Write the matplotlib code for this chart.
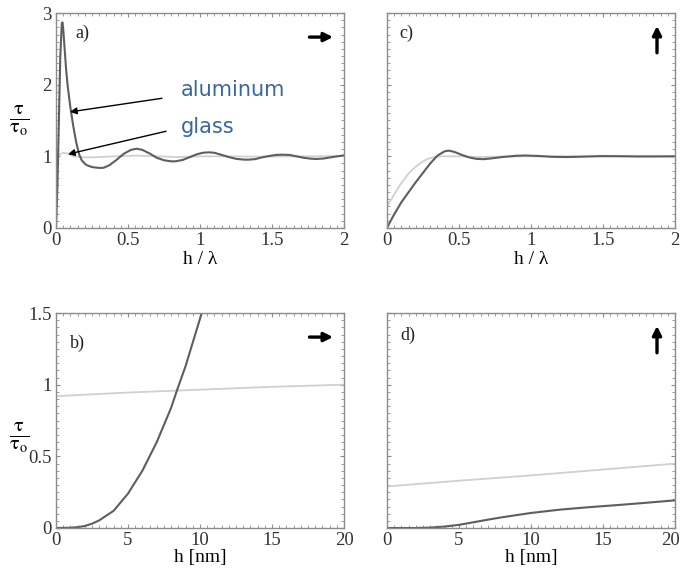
import numpy as np
import matplotlib.pyplot as plt
import matplotlib.transforms as mtransforms
from matplotlib.ticker import MultipleLocator

# panel a) - parallel dipole, h / lambda
h_a = [0, 0.01, 0.02, 0.03, 0.04, 0.045, 0.05, 0.06, 0.07, 0.08, 0.10, 0.12, 0.14,
       0.16, 0.18, 0.21, 0.25, 0.30, 0.33, 0.37, 0.42, 0.47, 0.52, 0.56, 0.60, 0.65,
       0.70, 0.75, 0.80, 0.83, 0.88, 0.93, 0.98, 1.02, 1.06, 1.10, 1.15, 1.20, 1.25,
       1.30, 1.33, 1.38, 1.43, 1.48, 1.53, 1.57, 1.62, 1.67, 1.72, 1.77, 1.81, 1.86,
       1.92, 1.97, 2.00]
alu_a = [0, 0.6, 1.5, 2.4, 2.85, 2.87, 2.78, 2.5, 2.22, 2.0, 1.68, 1.42, 1.2,
         1.03, 0.94, 0.88, 0.85, 0.838, 0.84, 0.875, 0.95, 1.035, 1.09, 1.107, 1.09, 1.04,
         0.98, 0.945, 0.93, 0.93, 0.95, 0.99, 1.03, 1.05, 1.056, 1.05, 1.02, 0.99, 0.965,
         0.955, 0.953, 0.96, 0.985, 1.005, 1.02, 1.023, 1.02, 1.0, 0.98, 0.967, 0.963, 0.97,
         0.99, 1.005, 1.014]
hg_a = [0, 0.02, 0.05, 0.08, 0.12, 0.2, 0.3, 0.4, 0.55, 0.7, 0.85, 1.0, 1.2, 1.4, 1.6, 1.8, 2.0]
glass_a = [0.93, 1.02, 1.05, 1.04, 1.0, 0.985, 0.99, 1.0, 1.01, 1.0, 0.99, 1.0, 1.0, 0.995, 1.0, 1.0, 1.005]

# panel c) - perpendicular dipole, h / lambda
h_c = [0, 0.02, 0.05, 0.1, 0.15, 0.2, 0.25, 0.3, 0.35, 0.4, 0.43, 0.47, 0.52, 0.57,
       0.62, 0.67, 0.72, 0.8, 0.9, 0.96, 1.05, 1.15, 1.25, 1.35, 1.48, 1.6, 1.75, 1.9, 2.0]
alu_c = [0, 0.08, 0.19, 0.36, 0.5, 0.64, 0.77, 0.9, 1.01, 1.07, 1.08, 1.06, 1.02, 0.985,
         0.965, 0.96, 0.97, 0.99, 1.008, 1.012, 1.005, 0.993, 0.99, 0.995, 1.003, 1.002, 0.998, 0.999, 1.0]
hg_c = [0, 0.03, 0.06, 0.09, 0.12, 0.15, 0.18, 0.21, 0.25, 0.29, 0.33, 0.38, 0.5, 0.65, 0.8, 1.0, 1.5, 2.0]
glass_c = [0.3, 0.4, 0.5, 0.6, 0.68, 0.76, 0.82, 0.87, 0.93, 0.97, 0.99, 1.0, 1.0, 0.99, 0.997, 1.0, 1.0, 1.0]

# panel b) - parallel dipole, h in nm
h_b = [0, 1, 1.5, 2, 2.5, 3, 4, 5, 6, 7, 8, 8.4, 9, 10, 11]
alu_b = [0, 0.002, 0.006, 0.014, 0.03, 0.053, 0.12, 0.24, 0.4, 0.6, 0.84, 0.96, 1.13, 1.46, 1.8]
hg_b = [0, 5, 10, 15, 20]
glass_b = [0.92, 0.945, 0.965, 0.985, 1.0]

# panel d) - perpendicular dipole, h in nm
h_d = [0, 2, 3, 4, 5, 6, 7, 8, 9, 10, 12, 14, 16, 18, 20]
alu_d = [0, 0.0, 0.003, 0.01, 0.022, 0.04, 0.058, 0.075, 0.09, 0.105, 0.128, 0.145, 0.16, 0.176, 0.193]
hg_d = [0, 5, 10, 15, 20]
glass_d = [0.29, 0.33, 0.367, 0.408, 0.449]

alu_color = '#5e5e5e'
glass_color = '#d0d0d0'
frame_color = '#8c8c8c'

plt.rcParams['font.family'] = ['Liberation Serif', 'DejaVu Serif']
plt.rcParams['mathtext.fontset'] = 'stix'

fig = plt.figure(figsize=(6.81, 5.76), dpi=100)
W, H = 681, 576


def make_axes(left, top, right, bottom):
    return fig.add_axes([left / W, 1 - bottom / H, (right - left) / W, (bottom - top) / H])


ax_a = make_axes(56, 13, 344, 228)
ax_c = make_axes(387, 13, 675, 228)
ax_b = make_axes(56, 313, 344, 528)
ax_d = make_axes(387, 313, 675, 528)

panels = [
    (ax_a, h_a, alu_a, hg_a, glass_a, 'a)', (0.066, 0.905), 'right', True),
    (ax_c, h_c, alu_c, hg_c, glass_c, 'c)', (0.042, 0.905), 'up', False),
    (ax_b, h_b, alu_b, hg_b, glass_b, 'b)', (0.049, 0.86), 'right', True),
    (ax_d, h_d, alu_d, hg_d, glass_d, 'd)', (0.045, 0.895), 'up', False),
]

for ax, hx, alu, hg, glass, lab, lab_pos, direction, show_y in panels:
    top_row = ax in (ax_a, ax_c)
    ax.plot(hg, glass, color=glass_color, lw=1.3)
    ax.plot(hx, alu, color=alu_color, lw=1.5)
    if top_row:
        ax.set_xlim(0, 2)
        ax.set_ylim(0, 3)
        ax.set_xticks([0, 0.5, 1, 1.5, 2], ['0', '0.5', '1', '1.5', '2'])
        ax.xaxis.set_minor_locator(MultipleLocator(0.05))
        ax.yaxis.set_major_locator(MultipleLocator(1))
        ax.yaxis.set_minor_locator(MultipleLocator(0.1))
        ax.set_xlabel('h / λ', fontsize=14, labelpad=1)
        if show_y:
            ax.set_yticks([0, 1, 2, 3], ['0', '1', '2', '3'])
    else:
        ax.set_xlim(0, 20)
        ax.set_ylim(0, 1.5)
        ax.set_xticks([0, 5, 10, 15, 20], ['0', '5', '10', '15', '20'])
        ax.xaxis.set_minor_locator(MultipleLocator(0.5))
        ax.yaxis.set_major_locator(MultipleLocator(0.5))
        ax.yaxis.set_minor_locator(MultipleLocator(0.05))
        ax.set_xlabel('h [nm]', fontsize=14, labelpad=0)
        if show_y:
            ax.set_yticks([0, 0.5, 1, 1.5], ['0', '0.5', '1', '1.5'])
    if not show_y:
        ax.tick_params(axis='y', labelleft=False)
    ax.tick_params(which='both', direction='in', top=True, right=True,
                   color=frame_color, labelsize=13.5, pad=3, labelcolor='#333333')
    ax.tick_params(which='major', length=3, width=0.8)
    ax.tick_params(which='minor', length=2, width=0.6)
    for sp in ax.spines.values():
        sp.set_color(frame_color)
        sp.set_linewidth(1.0)
    ax.text(lab_pos[0], lab_pos[1], lab, transform=ax.transAxes, fontsize=13,
            ha='left', va='center', color='#222222')
    if direction == 'right':
        ax.annotate('', xy=(0.962, 0.888), xytext=(0.88, 0.888), xycoords='axes fraction',
                    arrowprops=dict(arrowstyle='-|>', color='black', lw=2.4,
                                    mutation_scale=13, shrinkA=0, shrinkB=0))
    else:
        ax.annotate('', xy=(0.9375, 0.94), xytext=(0.9375, 0.815), xycoords='axes fraction',
                    arrowprops=dict(arrowstyle='-|>', color='black', lw=2.4,
                                    mutation_scale=13, shrinkA=0, shrinkB=0))
    if show_y:
        ax.set_ylabel(r'$\frac{\mathrm{\tau}}{\mathrm{\tau_o}}$', fontsize=21, rotation=0,
                      va='center', ha='center', labelpad=14)

ax_a.yaxis.set_label_coords(-0.13, (228 - 121) / 215)
ax_b.yaxis.set_label_coords(-0.13, (528 - 438) / 215)

# keep the last "20" label inside the figure edge
fig.canvas.draw()
shift = mtransforms.ScaledTranslation(-4 / 100, 0, fig.dpi_scale_trans)
last = ax_d.get_xticklabels()[-1]
last.set_transform(last.get_transform() + shift)

# blue callouts in panel a
blue = '#3a679f'
ax_a.text(0.868, 1.93, 'aluminum', color=blue, fontsize=15, family='DejaVu Sans',
          ha='left', va='center')
ax_a.text(0.868, 1.41, 'glass', color=blue, fontsize=15, family='DejaVu Sans',
          ha='left', va='center')
ax_a.annotate('', xy=(0.097, 1.62), xytext=(0.736, 1.81),
              arrowprops=dict(arrowstyle='-|>', color='black', lw=1.0,
                              mutation_scale=10, shrinkA=0, shrinkB=0))
ax_a.annotate('', xy=(0.083, 1.03), xytext=(0.764, 1.35),
              arrowprops=dict(arrowstyle='-|>', color='black', lw=1.0,
                              mutation_scale=10, shrinkA=0, shrinkB=0))

fig.savefig('out.png', dpi=100)
